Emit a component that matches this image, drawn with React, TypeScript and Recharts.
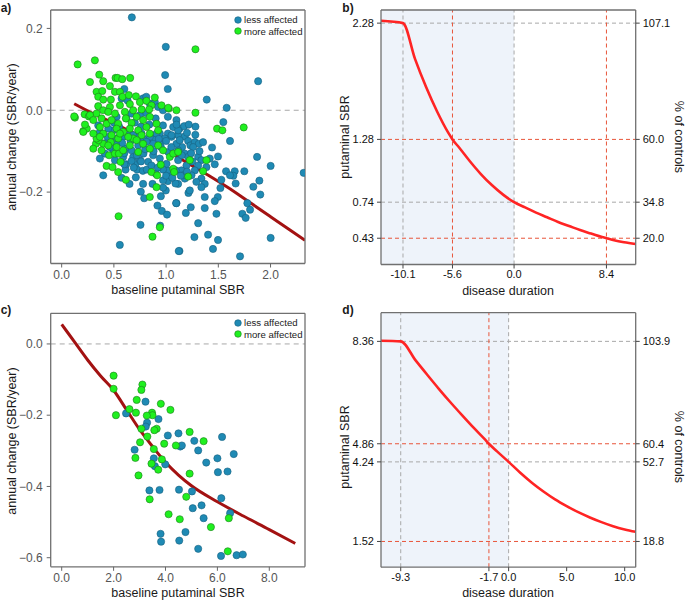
import React from 'react';
import {
  ComposedChart,
  Scatter,
  Line,
  XAxis,
  YAxis,
  ReferenceLine,
  ReferenceArea,
  Legend,
} from 'recharts';

const FONT = '"Liberation Sans", Arial, Helvetica, sans-serif';
const BLUE = '#1f8ab4';
const BLUE_EDGE = '#17617f';
const GREEN = '#1ff01f';
const GREEN_EDGE = '#1e7a1e';
const FIT = '#a31212';
const CURVE = '#ff2424';
const GREY_DASH = '#a8a8a8';
const RED_DASH = '#e8553a';
const FRAME = '#707070';

type Pt = [number, number];

// ---- panel a: annual change vs baseline SBR (all subjects) ----
const lessA: Pt[] = [
  [0.672, 0.227], [0.997, 0.155], [0.991, 0.086], [1.016, 0.052], [0.6, 0.052],
  [1.881, 0.071], [1.389, 0.026], [1.58, 0.006], [1.281, -0.04], [1.548, -0.029],
  [1.612, -0.075], [1.44, -0.091], [1.871, -0.114], [2.001, -0.136], [2.317, -0.153],
  [1.749, -0.149], [1.657, -0.149], [1.644, -0.16], [1.574, -0.149], [1.612, -0.159],
  [1.666, -0.179], [1.529, -0.17], [1.52, -0.19], [1.835, -0.187], [1.893, -0.172],
  [1.902, -0.206], [1.778, -0.227], [1.804, -0.243], [1.73, -0.253], [1.762, -0.263],
  [1.482, -0.253], [1.495, -0.212], [1.466, -0.222], [1.37, -0.212], [1.37, -0.239],
  [1.307, -0.276], [1.236, -0.237], [1.189, -0.251], [1.214, -0.202], [1.227, -0.196],
  [1.099, -0.227], [1.402, -0.304], [1.497, -0.317], [1.271, -0.31], [1.449, -0.339],
  [1.708, -0.357], [1.128, -0.344], [2.001, -0.312],
  [1.128, -0.045], [1.173, -0.039], [1.217, -0.035], [1.115, -0.061], [1.179, -0.064],
  [1.211, -0.075], [1.233, -0.086], [1.275, -0.078], [1.313, -0.082], [1.354, -0.078],
  [1.259, -0.09], [1.154, -0.09], [1.115, -0.098], [1.179, -0.106], [1.211, -0.114],
  [1.307, -0.114], [1.338, -0.122], [1.418, -0.118], [1.497, -0.113], [1.466, -0.132],
  [1.386, -0.139], [1.307, -0.135], [1.275, -0.147], [1.195, -0.135], [1.147, -0.147],
  [1.243, -0.159], [1.338, -0.167], [1.29, -0.175], [1.37, -0.18], [1.179, -0.167],
  [1.115, -0.18], [1.163, -0.159], [1.338, -0.188],
  [0.398, -0.159], [0.557, -0.329], [0.758, -0.199], [0.79, -0.215], [0.917, -0.233],
  [0.959, -0.246], [1.009, -0.255], [0.755, -0.28], [0.943, -0.282], [1.096, -0.227],
  [1.121, -0.344], [0.574, -0.165], [0.612, -0.145], [0.619, -0.132], [0.71, -0.164],
  [0.723, -0.145], [0.777, -0.148], [0.815, -0.145], [0.997, -0.196], [0.971, -0.189],
  [1.017, -0.173], [1.048, -0.153], [0.971, -0.171], [1.09, -0.179], [1.013, -0.147],
  [1.093, -0.147], [0.901, -0.155], [1.004, -0.131], [0.707, -0.131], [0.685, -0.114],
  [0.783, -0.106], [0.876, -0.11], [0.669, -0.124],
  [0.574, 0.029], [0.631, 0.024], [0.78, 0.029], [0.844, 0.016], [0.892, 0.02],
  [0.924, 0.008], [1.099, -0.024], [1.068, -0.041], [1.017, -0.057], [0.97, -0.037],
  [0.94, -0.057], [0.876, -0.069], [0.78, -0.069], [0.733, -0.064], [0.653, -0.059],
  [0.589, -0.065], [0.494, -0.049], [0.446, -0.045], [0.366, -0.057], [0.35, -0.037],
  [0.669, -0.008], [0.749, -0.012], [0.812, -0.007], [0.526, -0.016], [1.052, -0.065],
  [1.115, -0.049], [0.97, 0.0], [1.017, -0.016],
  [0.366, -0.053], [0.462, -0.073], [0.526, -0.069], [0.685, -0.061], [0.765, -0.057],
  [0.844, -0.065], [0.908, -0.057], [0.987, -0.069], [1.052, -0.061], [1.099, -0.082],
  [0.94, -0.082], [0.876, -0.082], [0.812, -0.077], [0.733, -0.086], [0.669, -0.098],
  [0.605, -0.094], [0.494, -0.098], [0.414, -0.106], [0.366, -0.118], [0.51, -0.122],
  [0.589, -0.114], [0.749, -0.122], [0.828, -0.126], [0.94, -0.118], [1.02, -0.102],
  [1.115, -0.122], [1.13, -0.073], [0.97, -0.145], [0.81, 0.033], [0.6, -0.132],
  [0.62, -0.02], [0.7, -0.03], [0.76, -0.04], [0.84, -0.035], [0.9, -0.02],
  [0.95, -0.09], [0.88, -0.1], [0.8, -0.095], [0.72, -0.11], [0.66, -0.075],
  [0.58, -0.08], [0.52, -0.085], [0.46, -0.09], [0.42, -0.08], [0.6, -0.105],
  [0.69, -0.14], [0.76, -0.125], [0.86, -0.135], [0.92, -0.14], [1.0, -0.16],
  [1.06, -0.165], [1.14, -0.16], [1.2, -0.15], [1.25, -0.125], [1.15, -0.11],
  [1.05, -0.09], [1.0, -0.075], [0.93, -0.07], [1.1, -0.035], [1.2, -0.055],
  [1.28, -0.06], [1.32, -0.1], [1.24, -0.105], [0.55, -0.04], [0.5, -0.03],
  [0.44, -0.065], [0.78, -0.18], [0.87, -0.18], [0.65, -0.18], [0.95, -0.21],
];

const moreA: Pt[] = [
  [1.281, 0.149], [0.153, 0.112], [0.318, 0.122], [0.36, 0.087], [0.271, 0.069],
  [0.398, 0.071], [0.462, 0.059], [0.516, 0.079], [0.535, 0.079], [0.58, 0.076],
  [0.656, 0.079], [0.127, -0.018], [0.12, -0.015], [0.22, -0.01], [0.207, -0.051],
  [0.24, -0.045], [0.26, -0.015],
  [1.281, -0.006], [1.488, -0.045], [1.539, -0.049], [1.743, -0.042], [1.386, -0.122],
  [1.227, -0.122], [1.354, -0.149], [1.211, -0.162], [1.099, 0.0], [1.026, 0.004],
  [0.545, -0.259], [0.844, -0.212], [0.87, -0.309], [0.908, -0.188], [0.94, -0.286],
  [0.615, -0.17], [0.541, -0.151], [0.43, -0.136], [0.487, -0.139], [0.454, -0.11],
  [0.51, -0.106], [0.548, -0.106], [0.564, -0.126], [0.328, -0.082], [0.398, -0.082],
  [0.353, -0.073], [0.207, -0.053], [0.86, -0.151], [0.914, -0.159], [0.949, -0.133],
  [1.068, -0.143], [1.077, -0.151], [1.036, -0.114],
  [0.334, 0.045], [0.389, 0.047], [0.35, 0.033], [0.398, 0.026], [0.471, 0.026],
  [0.51, 0.045], [0.558, 0.045], [0.583, 0.033], [0.643, 0.037], [0.711, 0.034],
  [0.749, 0.02], [0.812, 0.023], [0.892, 0.031], [0.86, 0.012], [0.462, 0.008],
  [0.558, 0.012], [0.653, 0.015], [0.35, 0.01], [0.398, 0.0], [0.334, -0.008],
  [0.446, -0.004], [0.51, -0.008], [0.605, -0.004], [0.685, 0.0], [0.765, 0.002],
  [0.838, 0.002], [0.956, 0.012], [1.02, 0.006], [0.271, -0.012], [0.303, -0.024],
  [0.382, -0.02], [0.43, -0.033], [0.478, -0.024], [0.541, -0.033], [0.615, -0.02],
  [0.669, -0.031], [0.717, -0.016], [0.78, -0.024], [0.844, -0.016], [0.908, -0.033],
  [0.526, -0.045], [0.589, -0.053], [0.653, -0.045], [0.733, -0.049], [0.812, -0.041],
  [0.366, -0.041], [0.398, -0.057], [0.478, -0.061], [0.223, -0.035], [0.844, -0.057],
  [0.924, -0.049], [0.334, -0.069], [0.541, -0.069], [0.685, -0.069], [0.765, -0.061],
  [0.303, -0.057], [0.366, -0.065], [0.47, -0.078], [0.558, -0.057], [0.637, -0.065],
  [0.717, -0.073], [0.78, -0.082], [0.844, -0.094], [0.653, -0.086], [0.589, -0.098],
  [0.526, -0.09], [0.446, -0.086], [0.382, -0.098], [0.733, -0.102], [0.924, -0.086],
  [0.971, -0.098], [1.068, -0.106], [1.115, -0.102], [0.303, -0.094],
];

const fitAx = [0.12, 0.3, 0.5, 0.8, 1.0, 1.2, 1.4, 1.6, 1.8, 2.0, 2.2, 2.33];
const fitAy = [0.016, -0.008, -0.032, -0.07, -0.098, -0.128, -0.158, -0.19, -0.225, -0.26, -0.295, -0.318];

// ---- panel c: subgroup ----
const lessC: Pt[] = [
  [3.23, -0.162], [2.48, -0.195], [3.73, -0.211], [3.29, -0.221], [3.24, -0.232],
  [4.5, -0.251], [4.09, -0.257], [5.11, -0.272], [6.18, -0.261], [4.57, -0.288],
  [4.63, -0.285], [5.26, -0.299], [2.81, -0.297], [6.63, -0.309], [3.55, -0.321],
  [5.57, -0.333], [6.0, -0.321], [3.59, -0.343], [3.99, -0.338], [6.02, -0.36],
  [6.39, -0.358], [3.38, -0.411], [3.77, -0.41], [4.52, -0.409], [5.02, -0.414],
  [6.15, -0.433], [5.39, -0.453], [5.05, -0.461], [6.49, -0.475], [5.47, -0.489],
  [3.81, -0.533], [3.83, -0.555], [4.77, -0.528], [4.53, -0.552], [5.26, -0.575],
  [6.14, -0.595], [6.74, -0.593], [6.98, -0.591],
];
const moreC: Pt[] = [
  [2.0, -0.089], [2.0, -0.126], [3.11, -0.114], [3.07, -0.129], [2.89, -0.157],
  [2.09, -0.2], [2.61, -0.183], [2.86, -0.193], [3.82, -0.168], [4.19, -0.185],
  [3.48, -0.193], [3.5, -0.2], [3.28, -0.201], [3.66, -0.238], [3.57, -0.242],
  [3.07, -0.238], [4.93, -0.247], [5.47, -0.273], [3.3, -0.26], [3.02, -0.276],
  [3.95, -0.28], [4.4, -0.285], [3.55, -0.295], [2.84, -0.32], [3.46, -0.336],
  [3.86, -0.324], [3.72, -0.353], [2.96, -0.369], [4.93, -0.364], [4.8, -0.429],
  [3.39, -0.436], [4.12, -0.478], [4.55, -0.492], [5.75, -0.514], [6.44, -0.489],
  [6.4, -0.582],
];
const fitCx = [0, 0.5, 1, 1.5, 2, 2.5, 3, 3.5, 4, 4.5, 5, 6, 7, 8, 9];
const fitCy = [0.055, 0.005, -0.045, -0.09, -0.13, -0.185, -0.24, -0.288, -0.332, -0.368, -0.398, -0.443, -0.483, -0.521, -0.56];

// ---- panel b: modelled SBR over disease duration ----
const durB = [-12.1, -10.1, -9, -8, -7, -6, -5.6, -5, -4, -3, -2, -1, 0, 1, 2, 3, 4, 5, 6, 7, 8, 8.4, 9, 10, 11.06];
const sbrB = [2.3, 2.28, 1.97, 1.73, 1.52, 1.34, 1.28, 1.21, 1.09, 0.98, 0.885, 0.805, 0.74, 0.695, 0.65, 0.61, 0.57, 0.535, 0.5, 0.47, 0.44, 0.43, 0.415, 0.395, 0.38];
const xTicksB = [-10.1, -5.6, 0, 8.4];
const sbrTicksB = [2.28, 1.28, 0.74, 0.43];
const pctTicksB = [107.1, 60.0, 34.8, 20.0];
const greyXB = [-10.1, 0];
const redXB = [-5.6, 8.4];
const greyYB = [2.28, 0.74];
const redYB = [1.28, 0.43];

// ---- panel d ----
const durD = [-11, -9.3, -8, -7, -6, -5, -4, -3, -2, -1.7, -1, 0, 1, 2, 3, 4, 5, 6, 7, 8, 9, 10, 10.95];
const sbrD = [8.38, 8.36, 7.7, 7.21, 6.73, 6.27, 5.83, 5.4, 4.99, 4.86, 4.6, 4.24, 3.87, 3.53, 3.23, 2.96, 2.73, 2.52, 2.34, 2.18, 2.04, 1.93, 1.85];
const xTicksD = [-9.3, -1.7, 0, 5, 10];
const sbrTicksD = [8.36, 4.86, 4.24, 1.52];
const pctTicksD = [103.9, 60.4, 52.7, 18.8];
const greyXD = [-9.3, 0];
const redXD = [-1.7];
const greyYD = [8.36, 4.24];
const redYD = [4.86, 1.52];

const legendItems = [
  { label: 'less affected', fill: BLUE, edge: BLUE_EDGE },
  { label: 'more affected', fill: GREEN, edge: GREEN_EDGE },
];

const minus = (s: string) => s.replace('-', '\u2212');
const fmt1 = (v: number) => minus(v.toFixed(1));
const fmtDur = (v: number) => v.toFixed(1);
const toRows = (pts: Pt[]) => pts.map(([x, y]) => ({ x, y }));
const zipRows = (xs: number[], ys: number[]) => xs.map((x, i) => ({ x, y: ys[i] }));

const dot = (fill: string, edge: string) => (p: any) =>
  <circle cx={p.cx} cy={p.cy} r={3.6} fill={fill} stroke={edge} strokeWidth={0.6} />;

function Title({ x, y, text, rotate = 0, size = 12.5, bold = false }: any) {
  return (
    <div
      style={{
        position: 'absolute', left: x, top: y, whiteSpace: 'nowrap',
        transform: `translate(-50%, -50%) rotate(${rotate}deg)`,
        fontSize: size, fontWeight: bold ? 700 : 400, color: '#1a1a1a', fontFamily: FONT,
      }}
    >
      {text}
    </div>
  );
}

function LegendBox() {
  return (
    <div style={{ fontFamily: FONT, fontSize: 9.6, color: '#222', lineHeight: '11.5px' }}>
      {legendItems.map((it) => (
        <div key={it.label} style={{ display: 'flex', alignItems: 'center' }}>
          <svg width={8} height={8} style={{ marginRight: 2 }}>
            <circle cx={4} cy={4} r={3.3} fill={it.fill} stroke={it.edge} strokeWidth={0.6} />
          </svg>
          {it.label}
        </div>
      ))}
    </div>
  );
}

const frameLine = { stroke: FRAME, strokeWidth: 1.3 };

interface ScatterPanelProps {
  less: Pt[]; more: Pt[]; fitX: number[]; fitY: number[];
  xDomain: [number, number]; yDomain: [number, number];
  xTicks: number[]; yTicks: number[]; height: number; top: number; legendTop: number;
}

function ScatterPanel(p: ScatterPanelProps) {
  const axisTick = { fill: '#555', fontSize: 12, fontFamily: FONT };
  return (
    <ComposedChart width={340} height={p.height} margin={{ top: p.top - 1, right: 34, left: 0, bottom: 0 }}>
      <XAxis type="number" dataKey="x" domain={p.xDomain} ticks={p.xTicks} tickFormatter={fmt1}
        allowDataOverflow interval={0} height={p.height - p.top - 253.5} tick={axisTick}
        tickLine={{ stroke: '#666' }} axisLine={frameLine} tickSize={4} tickMargin={3} />
      <XAxis xAxisId="top" orientation="top" type="number" domain={p.xDomain} ticks={p.xTicks}
        allowDataOverflow height={1} tick={false} tickLine={false} axisLine={frameLine} />
      <YAxis type="number" dataKey="y" domain={p.yDomain} ticks={p.yTicks} tickFormatter={fmt1}
        allowDataOverflow interval={0} width={50.7} tick={axisTick}
        tickLine={{ stroke: '#666' }} axisLine={frameLine} tickSize={4} tickMargin={4} />
      <YAxis yAxisId="right" orientation="right" type="number" domain={p.yDomain} ticks={p.yTicks}
        allowDataOverflow width={1} tick={false} tickLine={false} axisLine={frameLine} />
      <ReferenceLine y={0} stroke={GREY_DASH} strokeDasharray="5 4" strokeWidth={1} />
      <Scatter name="less affected" data={toRows(p.less)} dataKey="y" isAnimationActive={false}
        shape={dot(BLUE, BLUE_EDGE)} />
      <Scatter name="more affected" data={toRows(p.more)} dataKey="y" isAnimationActive={false}
        shape={dot(GREEN, GREEN_EDGE)} />
      <Line data={zipRows(p.fitX, p.fitY)} dataKey="y" type="monotone" stroke={FIT} strokeWidth={3}
        dot={false} activeDot={false} isAnimationActive={false} />
      <Legend verticalAlign="middle" align="center" layout="vertical"
        wrapperStyle={{ top: p.legendTop, left: 234, width: 'auto', height: 'auto' }}
        content={() => <LegendBox />} />
    </ComposedChart>
  );
}

interface DurationPanelProps {
  dur: number[]; sbr: number[]; xDomain: [number, number]; yDomain: [number, number];
  xTicks: number[]; sbrTicks: number[]; pctTicks: number[];
  greyX: number[]; redX: number[]; greyY: number[]; redY: number[];
  height: number; top: number;
}

function DurationPanel(p: DurationPanelProps) {
  const tick = { fill: '#111', fontSize: 11, fontFamily: FONT };
  const pctLabel = (v: number) => {
    const i = p.sbrTicks.indexOf(v);
    return i >= 0 ? p.pctTicks[i].toFixed(1) : '';
  };
  return (
    <ComposedChart width={345} height={p.height} margin={{ top: p.top - 1, right: 0, left: 0, bottom: 0 }}>
      <XAxis type="number" dataKey="x" domain={p.xDomain} ticks={p.xTicks} tickFormatter={fmtDur}
        allowDataOverflow interval={0} height={p.height - p.top - 254.5} tick={tick}
        tickLine={{ stroke: '#444' }} axisLine={frameLine} tickSize={4} tickMargin={2} />
      <XAxis xAxisId="top" orientation="top" type="number" domain={p.xDomain} ticks={p.xTicks}
        allowDataOverflow height={1} tick={false} tickLine={false} axisLine={frameLine} />
      <YAxis yAxisId="sbr" type="number" dataKey="y" domain={p.yDomain} ticks={p.sbrTicks}
        tickFormatter={(v: number) => v.toFixed(2)} allowDataOverflow interval={0} width={41}
        tick={tick} tickLine={{ stroke: '#444' }} axisLine={frameLine} tickSize={4} tickMargin={3} />
      <YAxis yAxisId="pct" orientation="right" type="number" domain={p.yDomain} ticks={p.sbrTicks}
        tickFormatter={pctLabel} allowDataOverflow interval={0} width={49.3}
        tick={tick} tickLine={{ stroke: '#444' }} axisLine={frameLine} tickSize={4} tickMargin={3} />
      <ReferenceArea yAxisId="sbr" x1={p.xDomain[0]} x2={0} fill="#eef3fa" fillOpacity={1} stroke="none" />
      {p.greyX.map((v) => (
        <ReferenceLine key={'gx' + v} yAxisId="sbr" x={v} stroke={GREY_DASH} strokeDasharray="4 3" />
      ))}
      {p.greyY.map((v) => (
        <ReferenceLine key={'gy' + v} yAxisId="sbr" y={v} stroke={GREY_DASH} strokeDasharray="4 3" />
      ))}
      {p.redX.map((v) => (
        <ReferenceLine key={'rx' + v} yAxisId="sbr" x={v} stroke={RED_DASH} strokeDasharray="4 3" />
      ))}
      {p.redY.map((v) => (
        <ReferenceLine key={'ry' + v} yAxisId="sbr" y={v} stroke={RED_DASH} strokeDasharray="4 3" />
      ))}
      <Line yAxisId="sbr" data={zipRows(p.dur, p.sbr)} dataKey="y" type="monotone" stroke={CURVE}
        strokeWidth={2.6} dot={false} activeDot={false} isAnimationActive={false} />
    </ComposedChart>
  );
}

export default function App() {
  return (
    <div style={{ position: 'absolute', left: 0, top: 0, width: 685, height: 601, background: '#fff', fontFamily: FONT }}>
      <div style={{ position: 'absolute', left: 0, top: 0 }}>
        <ScatterPanel less={lessA} more={moreA} fitX={fitAx} fitY={fitAy}
          xDomain={[-0.105, 2.33]} yDomain={[-0.3745, 0.245]} xTicks={[0, 0.5, 1, 1.5, 2]}
          yTicks={[0.2, 0, -0.2]} height={300} top={10} legendTop={14} />
      </div>
      <div style={{ position: 'absolute', left: 0, top: 300 }}>
        <ScatterPanel less={lessC} more={moreC} fitX={fitCx} fitY={fitCy}
          xDomain={[-0.424, 9.376]} yDomain={[-0.6255, 0.086]} xTicks={[0, 2, 4, 6, 8]}
          yTicks={[0, -0.2, -0.4, -0.6]} height={301} top={13.3} legendTop={17} />
      </div>
      <div style={{ position: 'absolute', left: 340, top: 0 }}>
        <DurationPanel dur={durB} sbr={sbrB} xDomain={[-12.1, 11.06]} yDomain={[0.204, 2.393]}
          xTicks={xTicksB} sbrTicks={sbrTicksB} pctTicks={pctTicksB}
          greyX={greyXB} redX={redXB} greyY={greyYB} redY={redYB} height={300} top={10} />
      </div>
      <div style={{ position: 'absolute', left: 340, top: 300 }}>
        <DurationPanel dur={durD} sbr={sbrD} xDomain={[-11, 10.95]} yDomain={[0.64, 9.34]}
          xTicks={xTicksD} sbrTicks={sbrTicksD} pctTicks={pctTicksD}
          greyX={greyXD} redX={redXD} greyY={greyYD} redY={redYD} height={301} top={12.7} />
      </div>

      <Title x={6} y={8} text="a)" bold size={12} />
      <Title x={348} y={8} text="b)" bold size={12} />
      <Title x={6} y={310} text="c)" bold size={12} />
      <Title x={348} y={310} text="d)" bold size={12} />

      <Title x={12} y={137} rotate={-90} text="annual change (SBR/year)" />
      <Title x={178} y={290} text="baseline putaminal SBR" />
      <Title x={12} y={441} rotate={-90} text="annual change (SBR/year)" />
      <Title x={178} y={593} text="baseline putaminal SBR" />

      <Title x={345} y={137} rotate={-90} text="putaminal SBR" />
      <Title x={679} y={137} rotate={90} text="% of controls" />
      <Title x={508} y={291} text="disease duration" />
      <Title x={345} y={447} rotate={-90} text="putaminal SBR" />
      <Title x={679} y={447} rotate={90} text="% of controls" />
      <Title x={508} y={593} text="disease duration" />
    </div>
  );
}
